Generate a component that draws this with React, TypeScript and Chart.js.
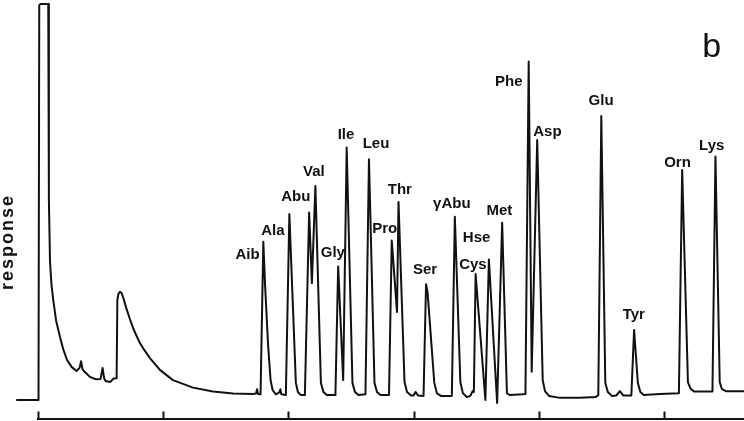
import { useEffect, useRef } from "react";
import { Chart, registerables } from "chart.js";

Chart.register(...registerables);

// Retention time (min) and detector response of every labelled amino-acid peak
const peakNames = ["Aib", "Ala", "Abu", "Val", "Gly", "Ile", "Leu", "Pro", "Thr", "Ser", "γAbu", "Cys", "Hse", "Met", "Phe", "Asp", "Glu", "Tyr", "Orn", "Lys"];
const peakTimes = [9.0, 10.04, 10.83, 11.08, 11.99, 12.33, 13.22, 14.13, 14.4, 15.5, 16.65, 17.48, 18.01, 18.54, 19.6, 19.94, 22.5, 23.81, 25.73, 27.06];
const peakHeights = [38.7, 45.7, 46.1, 52.8, 32.4, 62.6, 59.6, 39.0, 48.8, 27.9, 45.0, 30.5, 34.2, 43.5, 84.4, 64.5, 70.6, 16.3, 56.9, 60.3];

// Rest of the trace: injection, solvent front, baseline, peak feet and valleys
const profileTimes = [
  -0.84, 0.02, 0.05, 0.1, 0.41, 0.435, 0.48, 0.54, 0.61, 0.72, 0.88, 1.02, 1.16, 1.35, 1.54, 1.66, 1.72, 1.78, 1.86,
  2.08, 2.32, 2.5, 2.58, 2.64, 2.7, 2.88, 3.02, 3.14, 3.17, 3.21, 3.27, 3.33, 3.41, 3.55, 3.67, 3.83, 4.07, 4.27,
  4.47, 4.87, 5.39, 6.19, 6.99, 7.79, 8.59, 8.71, 8.75, 8.79, 8.89,
  9.07, 9.19, 9.29, 9.37, 9.5, 9.64, 9.68, 9.72, 9.9,
  10.3, 10.38, 10.5, 10.66, 10.94, 11.3, 11.4, 11.54, 11.88, 12.19, 12.56, 12.66, 12.8, 13.08,
  13.44, 13.54, 13.68, 14.02, 14.34, 14.64, 14.74, 14.9, 15.0, 15.08, 15.18, 15.4,
  15.56, 15.83, 15.93, 16.09, 16.53, 16.87, 16.97, 17.13, 17.27, 17.36, 17.41,
  17.87, 18.34, 18.73, 18.85, 19.37, 19.47, 19.72, 20.16, 20.25, 20.41, 20.85, 21.65, 22.28, 22.38,
  22.66, 22.76, 22.92, 23.1, 23.24, 23.38, 23.7, 23.96, 24.06, 24.2, 24.84, 25.6,
  25.96, 26.06, 26.2, 26.94, 27.23, 27.32, 27.48, 28.4,
];
const profileValues = [
  -1.45, -1.45, 98.7, 99.0, 99.0, 49.3, 33.6, 27.7, 23.9, 18.8, 14.5, 11.2, 8.7, 6.9, 5.9, 6.7, 8.4, 6.3, 5.7,
  4.4, 3.8, 3.9, 6.7, 4.1, 3.4, 3.1, 4.0, 4.1, 23.9, 25.4, 26.0, 25.8, 24.4, 21.4, 19.1, 16.3, 13.0, 11.0,
  9.2, 6.2, 3.6, 1.7, 0.7, 0.2, 0.1, 0.2, 1.3, 0.1, 0.0,
  27.7, 12.5, 3.6, 1.1, 0.0, 0.5, 1.3, 0.0, -0.2,
  2.9, 0.6, -0.2, -0.2, 28.2, 2.9, 0.6, -0.2, -0.2, 3.6, 2.9, 0.6, -0.2, 0.0,
  2.9, 0.6, -0.2, -0.2, 20.9, 3.1, 0.6, -0.3, -0.3, 0.6, -0.3, -0.4,
  25.9, 2.9, 0.3, -0.4, -0.4, 3.1, 0.3, -0.7, -0.4, 0.8, 0.6,
  -1.45, -2.2, 0.3, -0.2, 0.0, 0.1, 5.7, 3.6, 0.8, -0.4, -0.9, -0.9, -0.7, -0.2,
  2.9, 0.6, -0.4, -0.3, 0.8, -0.3, -0.3, 2.9, 0.6, -0.2, 0.1, 0.3,
  3.1, 1.5, 0.7, 0.7, 3.1, 1.3, 0.8, 0.8,
];

// Label placement relative to each peak apex, in pixels [dx, dy]
const labelOffsets = [
  [-15.8, 12.3], [-16.5, 16], [-13.3, -16.7], [-1.5, -15], [-5.3, -14.7], [-0.7, -13.3], [7, -16.3],
  [-7, -12.4], [1.3, -13.4], [-1, -16], [-3, -13.7], [-2.7, -10.7], [-12.3, -22.6], [-2.8, -12.7],
  [-19.9, 19], [10.2, -9.5], [-0.2, -16], [-0.3, -16.7], [-4.7, -8.3], [-3.7, -11.7],
];

const INK = "#111111";

const annotations = {
  id: "chromAnnotations",
  afterDraw(chart: any) {
    const { ctx } = chart;
    const xs = chart.scales.x;
    const ys = chart.scales.y;
    ctx.save();
    // time marks rising from the axis
    ctx.strokeStyle = INK;
    ctx.lineWidth = 2;
    ctx.beginPath();
    xs.ticks.forEach((t: any) => {
      const px = Math.round(xs.getPixelForValue(t.value)) + 0.5;
      ctx.moveTo(px, xs.top);
      ctx.lineTo(px, xs.top - 7.5);
    });
    ctx.stroke();

    // peak names
    ctx.fillStyle = INK;
    ctx.font = "bold 15px 'Liberation Sans', Arial, sans-serif";
    ctx.textAlign = "center";
    ctx.textBaseline = "alphabetic";
    peakNames.forEach((name, i) => {
      const px = xs.getPixelForValue(peakTimes[i]);
      const py = ys.getPixelForValue(peakHeights[i]);
      const [dx, dy] = labelOffsets[i];
      ctx.fillText(name, px + dx, py + dy + 5.2);
    });

    // panel letter
    ctx.font = "34px 'Liberation Sans', Arial, sans-serif";
    ctx.fillText("b", 711.7, 57);

    // vertical axis caption
    ctx.save();
    ctx.translate(12.5, 242);
    ctx.rotate(-Math.PI / 2);
    ctx.font = "bold 18px 'Liberation Sans', Arial, sans-serif";
    (ctx as any).letterSpacing = "2px";
    ctx.textAlign = "center";
    ctx.fillText("response", 0, 0);
    ctx.restore();
    ctx.restore();
  },
};

export default function App() {
  const canvasRef = useRef<HTMLCanvasElement | null>(null);

  useEffect(() => {
    if (!canvasRef.current) return;
    const points = [
      ...profileTimes.map((x, i) => ({ x, y: profileValues[i] })),
      ...peakTimes.map((x, i) => ({ x, y: peakHeights[i] })),
    ].sort((a, b) => a.x - b.x);

    const chart = new Chart(canvasRef.current, {
      type: "line",
      data: {
        datasets: [
          {
            data: points,
            borderColor: INK,
            borderWidth: 2,
            borderJoinStyle: "round",
            borderCapStyle: "round",
            pointRadius: 0,
            tension: 0,
            fill: false,
            clip: false as any,
          },
        ],
      },
      options: {
        responsive: false,
        animation: false,
        devicePixelRatio: 1,
        layout: { padding: { left: 38, right: 0, top: 0, bottom: 2 } },
        plugins: { legend: { display: false }, tooltip: { enabled: false }, title: { display: false } },
        scales: {
          x: {
            type: "linear",
            min: 0,
            max: 28.2,
            ticks: { display: false, stepSize: 5, includeBounds: false },
            grid: { drawOnChartArea: false, drawTicks: false },
            border: { display: true, color: INK, width: 2 },
          },
          y: { display: false, min: -6.26, max: 100 },
        },
      },
      plugins: [annotations],
    });
    return () => chart.destroy();
  }, []);

  return (
    <div style={{ position: "fixed", left: 0, top: 0, width: 744, height: 421, background: "#fff" }}>
      <canvas ref={canvasRef} width={744} height={421} style={{ display: "block" }} />
    </div>
  );
}
